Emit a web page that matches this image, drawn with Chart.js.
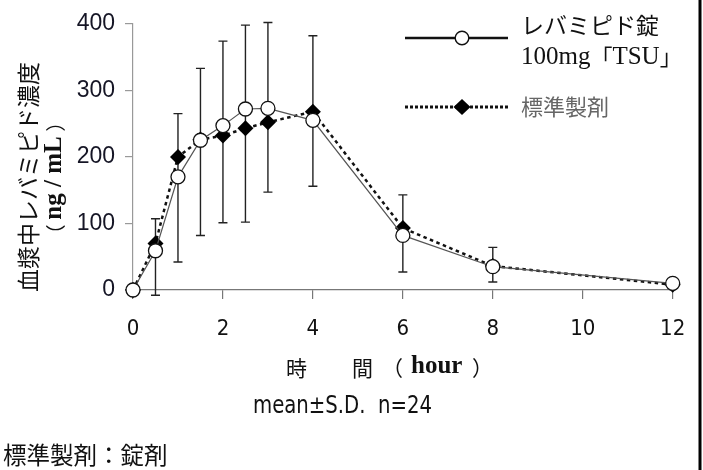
<!DOCTYPE html>
<html>
<head>
<meta charset="utf-8">
<script src="https://cdn.jsdelivr.net/npm/chart.js@4/dist/chart.umd.min.js"></script>
<style>
  html, body { margin: 0; padding: 0; background: #fff; }
  #wrap { width: 703px; height: 470px; position: relative; }
</style>
</head>
<body>
<div id="wrap"><canvas id="c" width="703" height="470"></canvas></div>
<script>
// Sampling times (hour)
const times = [0, 0.5, 1, 1.5, 2, 2.5, 3, 4, 6, 8, 12];
// Plasma rebamipide concentration (ng/mL), mean
const tsuMean = [0, 59, 170, 225, 247, 272, 273, 255, 82, 35, 10];
const refMean = [0, 70, 200, 226, 232, 243, 252, 268, 93, 36, 8];
// Whisker ends of the S.D. bars
const sdTop = [null, 107, 265, 333, 374, 398, 402, 382, 143, 64, null];
const sdBottom = [null, -8, 42, 82, 101, 102, 147, 156, 27, 12, null];
// Axis ticks
const xTicks = [0, 2, 4, 6, 8, 10, 12];
const yTicks = [0, 100, 200, 300, 400];

const seriesNames = ['レバミピド錠', '100mg「TSU」', '標準製剤'];

const GOTHIC = "'Noto Sans CJK JP', 'Noto Sans', sans-serif";
const SERIF = "'Liberation Serif', 'DejaVu Serif', 'Noto Sans CJK JP', serif";
const NARROW = "'Liberation Sans Narrow', 'DejaVu Sans Condensed', 'Liberation Sans', sans-serif";

const toPts = (ys) => times.map((t, i) => ({ x: t, y: ys[i] }));

// Draws mixed-font text runs, left to right, starting at x
function drawRuns(ctx, runs, x, y) {
  let cx = x;
  for (const r of runs) {
    ctx.font = r.font;
    ctx.fillStyle = r.color || '#111';
    ctx.fillText(r.t, cx, y);
    cx += ctx.measureText(r.t).width;
  }
  return cx;
}
function runsWidth(ctx, runs) {
  let w = 0;
  for (const r of runs) { ctx.font = r.font; w += ctx.measureText(r.t).width; }
  return w;
}

const decorations = {
  id: 'decorations',
  beforeDatasetsDraw(chart) {
    // S.D. whiskers
    const { ctx, scales: { x, y } } = chart;
    ctx.save();
    ctx.strokeStyle = '#222';
    ctx.lineWidth = 1.4;
    times.forEach((t, i) => {
      if (sdTop[i] == null) return;
      const px = x.getPixelForValue(t);
      const top = y.getPixelForValue(sdTop[i]);
      const bot = y.getPixelForValue(sdBottom[i]);
      ctx.beginPath();
      ctx.moveTo(px, top); ctx.lineTo(px, bot);
      ctx.moveTo(px - 4.5, top); ctx.lineTo(px + 4.5, top);
      ctx.moveTo(px - 4.5, bot); ctx.lineTo(px + 4.5, bot);
      ctx.stroke();
    });
    ctx.restore();
  },
  afterDraw(chart) {
    const { ctx } = chart;
    ctx.save();
    ctx.textBaseline = 'middle';

    // Legend
    const lx0 = 405, lx1 = 508, lmid = 462;
    ctx.strokeStyle = '#111';
    ctx.lineWidth = 2.6;
    ctx.beginPath(); ctx.moveTo(lx0, 38); ctx.lineTo(lx1, 38); ctx.stroke();
    ctx.fillStyle = '#fff';
    ctx.lineWidth = 1.4;
    ctx.beginPath(); ctx.arc(lmid, 38, 6.8, 0, Math.PI * 2); ctx.fill(); ctx.stroke();

    ctx.lineWidth = 3;
    ctx.setLineDash([3, 2]);
    ctx.beginPath(); ctx.moveTo(lx0, 107); ctx.lineTo(lx1, 107); ctx.stroke();
    ctx.setLineDash([]);
    ctx.fillStyle = '#000';
    ctx.beginPath();
    ctx.moveTo(lmid, 99); ctx.lineTo(lmid + 8.5, 107); ctx.lineTo(lmid, 115); ctx.lineTo(lmid - 8.5, 107);
    ctx.closePath(); ctx.fill();

    ctx.textAlign = 'left';
    ctx.fillStyle = '#111';
    ctx.font = '23px ' + GOTHIC;
    ctx.fillText(seriesNames[0], 521, 25);
    drawRuns(ctx, [
      { t: '100mg', font: '25px ' + SERIF },
      { t: '「', font: '22px ' + GOTHIC },
      { t: 'TSU', font: '25px ' + SERIF },
      { t: '」', font: '22px ' + GOTHIC }
    ], 521, 57);
    ctx.fillStyle = '#666';
    ctx.font = '22px ' + GOTHIC;
    ctx.fillText(seriesNames[2], 521, 107);

    // X-axis title: 時　間（ hour ）
    ctx.fillStyle = '#111';
    ctx.font = '21px ' + GOTHIC;
    ctx.textAlign = 'left';
    ctx.fillText('時', 286, 368);
    ctx.fillText('間', 352, 368);
    ctx.textAlign = 'right';
    ctx.fillText('（', 403, 368);
    ctx.textAlign = 'left';
    ctx.fillText('）', 472, 368);
    ctx.font = 'bold 25px ' + SERIF;
    ctx.fillText('hour', 411, 367);

    // Y-axis title, two rotated lines
    ctx.save();
    ctx.translate(28, 177);
    ctx.rotate(-Math.PI / 2);
    ctx.textAlign = 'center';
    ctx.fillStyle = '#111';
    ctx.font = '23px ' + GOTHIC;
    ctx.fillText('血漿中レバミピド濃度', 0, 0);
    ctx.restore();

    ctx.save();
    ctx.translate(55, 178);
    ctx.rotate(-Math.PI / 2);
    ctx.textAlign = 'left';
    const yRuns = [
      { t: '（ ', font: '20px ' + GOTHIC },
      { t: 'ng / mL', font: 'bold 25px ' + SERIF },
      { t: ' ）', font: '20px ' + GOTHIC }
    ];
    const yw = runsWidth(ctx, yRuns);
    drawRuns(ctx, yRuns, -yw / 2, 0);
    ctx.restore();

    // Notes below the chart (condensed face)
    ctx.fillStyle = '#111';
    ctx.textAlign = 'center';
    ctx.font = '24px ' + NARROW;
    const note = 'mean±S.D.  n=24';
    const nw = ctx.measureText(note).width;
    ctx.save();
    ctx.translate(342.5, 407);
    ctx.scale(Math.min(1, 179 / nw), 1);
    ctx.fillText(note, 0, 0);
    ctx.restore();

    ctx.textAlign = 'left';
    ctx.font = '23.5px ' + GOTHIC;
    ctx.fillText('標準製剤：錠剤', 3, 455);

    // Right frame line
    ctx.fillStyle = '#000';
    ctx.fillRect(698.5, 0, 3, 470);
    ctx.restore();
  }
};

new Chart(document.getElementById('c'), {
  type: 'line',
  data: {
    datasets: [
      {
        label: seriesNames[0] + seriesNames[1],
        data: toPts(tsuMean),
        borderColor: '#555',
        borderWidth: 1.2,
        pointStyle: 'circle',
        pointRadius: 7,
        pointBackgroundColor: '#fff',
        pointBorderColor: '#111',
        pointBorderWidth: 1.3,
        tension: 0,
        order: 0
      },
      {
        label: seriesNames[2],
        data: toPts(refMean),
        borderColor: '#111',
        borderWidth: 2.5,
        borderDash: [3.5, 3.5],
        pointStyle: 'rectRot',
        pointRadius: 8,
        pointBackgroundColor: '#000',
        pointBorderColor: '#000',
        pointBorderWidth: 0,
        tension: 0,
        order: 1
      }
    ]
  },
  options: {
    responsive: false,
    animation: false,
    clip: false,
    layout: { padding: { left: 0, top: 21.5, right: 30.3, bottom: 130 } },
    plugins: { legend: { display: false }, tooltip: { enabled: false } },
    scales: {
      x: {
        type: 'linear',
        min: 0, max: 12,
        afterFit(s) { s.height = 50; },
        afterBuildTicks(s) { s.ticks = xTicks.map(v => ({ value: v })); },
        border: { display: true, color: '#777', width: 1.2 },
        grid: { display: true, drawOnChartArea: false, drawTicks: true, tickLength: 9, color: '#777', lineWidth: 1.2 },
        ticks: { color: '#111', padding: 17, font: { family: NARROW, size: 22 } }
      },
      y: {
        min: 0, max: 400,
        afterFit(s) { s.width = 133; },
        afterBuildTicks(s) { s.ticks = yTicks.map(v => ({ value: v })); },
        border: { display: true, color: '#999', width: 1.2 },
        grid: { display: true, drawOnChartArea: false, drawTicks: true, tickLength: 8, color: '#999', lineWidth: 1.2 },
        ticks: { color: '#151525', padding: 10, font: { family: "'Liberation Sans', Arial, sans-serif", size: 23 } }
      }
    }
  },
  plugins: [decorations]
});
</script>
</body>
</html>
